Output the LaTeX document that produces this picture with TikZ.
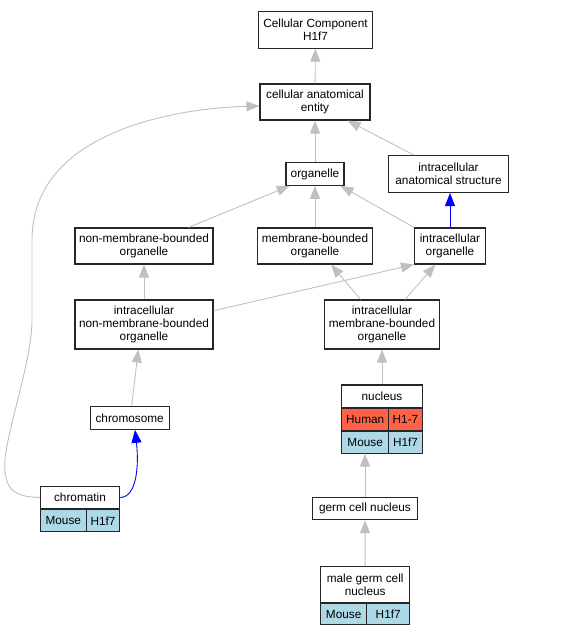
\documentclass[tikz,border=0pt]{standalone}
\usepackage{fontspec}
\setmainfont{Liberation Sans}
\usetikzlibrary{arrows.meta}
\definecolor{human}{HTML}{FF6347}
\definecolor{mouse}{HTML}{ADD8E6}
\definecolor{edgegray}{HTML}{C0C0C0}
\tikzset{>={Triangle[length=13pt,width=10pt]}}
\tikzset{
box/.style={draw=black!85, line width=1.1pt, fill=white, inner sep=0pt, align=center, font=\fontsize{11.8}{13.3}\selectfont},
cell/.style={box, minimum height=21.6pt},
edge/.style={->, draw=edgegray, line width=0.9pt},
partof/.style={->, draw=blue, line width=0.9pt}
}
\begin{document}
\begin{tikzpicture}[x=1pt, y=-1pt]
\useasboundingbox (0,0) rectangle (562,635);
\node[box, minimum width=113.6pt, minimum height=36.3pt] (cc) at (315.5,30) {Cellular Component\\H1f7};
\node[box, minimum width=110pt, minimum height=36pt] (cae) at (315,102) {cellular anatomical\\entity};
\node[box, minimum width=58pt, minimum height=22.5pt] (org) at (315,174) {organelle};
\node[box, minimum width=119.6pt, minimum height=37pt] (ias) at (448.5,174) {intracellular\\anatomical structure};
\node[box, minimum width=138pt, minimum height=36pt] (nmbo) at (144,246) {non-membrane-bounded\\organelle};
\node[box, minimum width=115pt, minimum height=36pt] (mbo) at (315,246) {membrane-bounded\\organelle};
\node[box, minimum width=71pt, minimum height=36pt] (io) at (450,246) {intracellular\\organelle};
\node[box, minimum width=138pt, minimum height=49pt] (inmbo) at (144,324.5) {intracellular\\non-membrane-bounded\\organelle};
\node[box, minimum width=115pt, minimum height=49pt] (imbo) at (382,324.5) {intracellular\\membrane-bounded\\organelle};
\node[box, minimum width=79.3pt, minimum height=22.6pt] (chrsome) at (129.7,418) {chromosome};
\node[box, minimum width=80.6pt, minimum height=22.7pt] (nuc) at (382,396.3) {nucleus};
\node[cell, fill=human, minimum width=47pt, anchor=north west] (nucHs) at (nuc.south west) {Human};
\node[cell, fill=human, minimum width=33.6pt, anchor=north east] (nucHsG) at (nuc.south east) {H1-7};
\node[cell, fill=mouse, minimum width=47pt, anchor=north west] (nucMm) at (nucHs.south west) {Mouse};
\node[cell, fill=mouse, minimum width=33.6pt, anchor=north east] (nucMmG) at (nucHsG.south east) {H1f7};
\node[box, minimum width=79.4pt, minimum height=22.4pt] (chromatin) at (80,497.5) {chromatin};
\node[cell, fill=mouse, minimum width=46pt, minimum height=22pt, anchor=north west] (chromatinMm) at (chromatin.south west) {Mouse};
\node[cell, fill=mouse, minimum width=33.4pt, minimum height=22pt, anchor=north east] (chromatinMmG) at (chromatin.south east) {H1f7};
\node[box, minimum width=104.7pt, minimum height=22.3pt] (gcn) at (365,508.5) {germ cell nucleus};
\node[box, minimum width=89pt, minimum height=36pt] (mgcn) at (365.2,584.7) {male germ cell\\nucleus};
\node[cell, fill=mouse, minimum width=46pt, minimum height=21pt, anchor=north west] (mgcnMm) at (mgcn.south west) {Mouse};
\node[cell, fill=mouse, minimum width=43pt, minimum height=21pt, anchor=north east] (mgcnMmG) at (mgcn.south east) {H1f7};
\draw[edge] (cae) -- (cc);
\draw[edge] (org) -- (cae);
\draw[edge] ([xshift=25.6pt]ias.north west) -- ([xshift=-23pt]cae.south east);
\draw[edge] ([xshift=-25pt]nmbo.north east) -- ([xshift=4.3pt]org.south west);
\draw[edge] (mbo) -- (org);
\draw[edge] (io.north west) -- ([xshift=-4pt]org.south east);
\draw[partof] (io.north) -- (io.north |- ias.south);
\draw[edge] (inmbo) -- (nmbo);
\draw[edge] ([yshift=13.8pt]inmbo.east) -- (io.south west);
\draw[edge] ([xshift=36.7pt]imbo.north west) -- ([xshift=-42pt]mbo.south east);
\draw[edge] ([xshift=-35pt]imbo.north east) -- ([xshift=-50.7pt]io.south east);
\draw[edge] ([xshift=2pt]chrsome.north) -- ([xshift=-5.7pt]inmbo.south);
\draw[edge] (nuc) -- (imbo);
\draw[partof] (chromatin.east) .. controls (137,497) and (139,465) .. ([xshift=5.3pt]chrsome.south);
\draw[edge] (chromatin.west) .. controls (15,497) and (3,490) .. (5,460) .. controls (7,430) and (32,360) .. (32,320) -- (32,240) .. controls (32,130) and (180,108) .. ([yshift=-4pt]cae.west);
\draw[edge] (gcn.north) -- (gcn.north |- nucMm.south);
\draw[edge] (mgcn) -- (gcn);
\end{tikzpicture}
\end{document}
